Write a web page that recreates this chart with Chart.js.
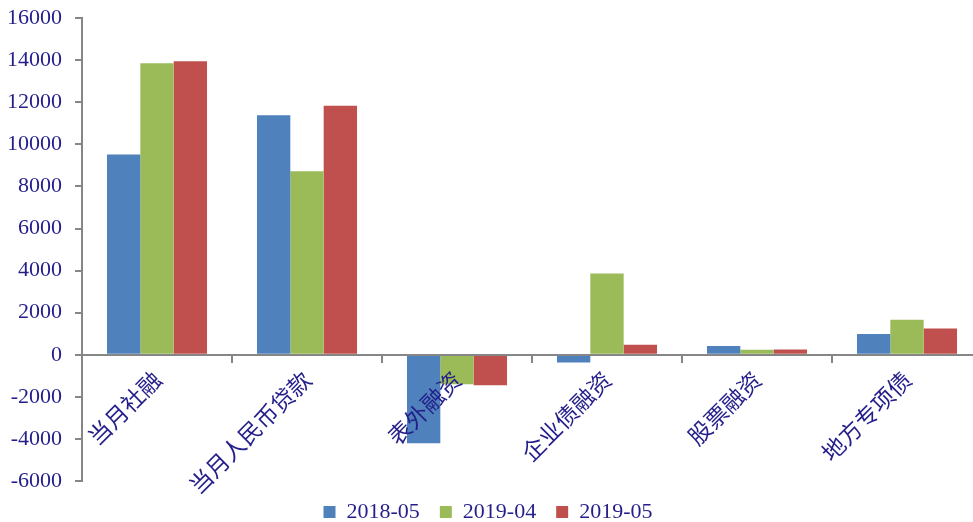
<!DOCTYPE html>
<html><head><meta charset="utf-8">
<script src="https://cdn.jsdelivr.net/npm/chart.js@4/dist/chart.umd.min.js"></script>
<style>
html,body{margin:0;padding:0;background:#fff;overflow:hidden;width:973px;height:522px;}
#wrap{width:990px;height:530px;margin-top:-8px;}
</style></head>
<body><div id="wrap"><canvas id="c" width="990" height="530"></canvas></div>
<script>
const categories = ['当月社融','当月人民币贷款','表外融资','企业债融资','股票融资','地方专项债'];
const s2018_05 = [9520, 11390, -4200, -370, 420, 990];
const s2019_04 = [13860, 8730, -1400, 3860, 240, 1660];
const s2019_05 = [13950, 11840, -1450, 480, 250, 1250];
const seriesNames = ['2018-05','2019-04','2019-05'];
const yTicks = [-6000,-4000,-2000,0,2000,4000,6000,8000,10000,12000,14000,16000];

const txt = '#241E8A';
const axisCol = '#868686';
const serif = "'Liberation Serif','DejaVu Serif',serif";
const cjk = "'Noto Sans CJK SC','Noto Sans CJK JP',sans-serif";

new Chart(document.getElementById('c'), {
  type: 'bar',
  data: {
    labels: categories,
    datasets: [
      {label: seriesNames[0], data: s2018_05, backgroundColor: '#4F81BD'},
      {label: seriesNames[1], data: s2019_04, backgroundColor: '#9BBB59'},
      {label: seriesNames[2], data: s2019_05, backgroundColor: '#C0504D'}
    ]
  },
  options: {
    responsive: false,
    animation: false,
    categoryPercentage: 0.667,
    barPercentage: 1.0,
    layout: {padding: {left: -6, right: 8, top: 0, bottom: -11}},
    plugins: {
      legend: {
        position: 'bottom',
        labels: {boxWidth: 12, boxHeight: 12, padding: 20, color: txt, font: {family: serif, size: 22}}
      },
      tooltip: {enabled: false}
    },
    scales: {
      x: {
        position: {y: 0},
        grid: {display: true, drawOnChartArea: false, offset: true, color: axisCol, tickLength: 7, lineWidth: 2, z: 1},
        border: {color: axisCol, width: 2, z: 1},
        ticks: {color: txt, font: {family: cjk, size: 23}, minRotation: 45, maxRotation: 45, padding: 4, z: 2}
      },
      y: {
        min: -6000, max: 16000,
        afterBuildTicks: (s) => { s.ticks = yTicks.map(v => ({value: v})); },
        grid: {display: true, drawOnChartArea: false, color: axisCol, tickLength: 7, lineWidth: 2},
        border: {color: axisCol, width: 2},
        ticks: {color: txt, font: {family: serif, size: 22}, padding: 13, callback: v => String(v)}
      }
    }
  }
});
</script></body></html>
